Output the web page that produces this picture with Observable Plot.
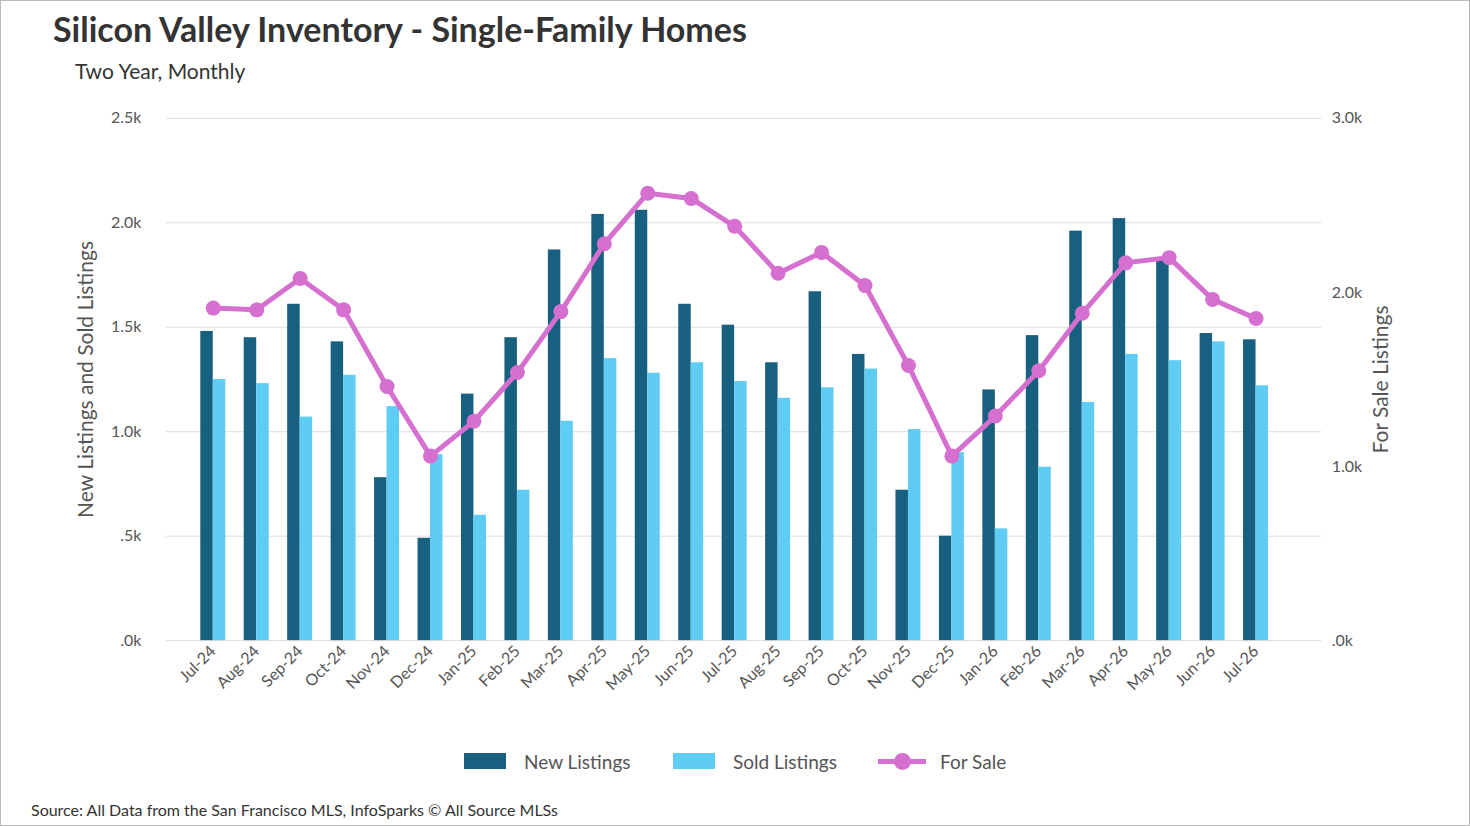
<!DOCTYPE html>
<html><head><meta charset="utf-8">
<script src="https://cdn.jsdelivr.net/npm/d3@7"></script>
<script src="https://cdn.jsdelivr.net/npm/@observablehq/plot@0.6"></script>
<style>
body{margin:0;font-family:Lato,sans-serif;}
#wrap{position:relative;width:1468px;height:824px;border:1px solid #bbb;overflow:hidden;background:#fff}
.t{position:absolute;white-space:nowrap;color:#333}
</style></head><body>
<div id="wrap">
<div class="t" style="left:52px;top:7px;font-size:34px;font-weight:bold;color:#333">Silicon Valley Inventory - Single-Family Homes</div>
<div class="t" style="left:74px;top:57px;font-size:21px;color:#333">Two Year, Monthly</div>
<div id="chart" style="position:absolute;left:0;top:0"></div>
<div class="t" style="left:463px;top:752px;width:42px;height:16px;background:#17607f"></div>
<div class="t" style="left:523px;top:749px;font-size:19px;color:#555">New Listings</div>
<div class="t" style="left:672px;top:752px;width:42px;height:16px;background:#5fccf3"></div>
<div class="t" style="left:732px;top:749px;font-size:19px;color:#555">Sold Listings</div>
<div class="t" style="left:877px;top:758px;width:48px;height:5px;background:#d56fd0"></div>
<div class="t" style="left:893px;top:752px;width:17px;height:17px;border-radius:50%;background:#d56fd0"></div>
<div class="t" style="left:939px;top:749px;font-size:19px;color:#555">For Sale</div>
<div class="t" style="left:30px;top:799px;font-size:16px;color:#333">Source: All Data from the San Francisco MLS, InfoSparks © All Source MLSs</div>
</div>
<script>
const months=["Jul-24","Aug-24","Sep-24","Oct-24","Nov-24","Dec-24","Jan-25","Feb-25","Mar-25","Apr-25","May-25","Jun-25","Jul-25","Aug-25","Sep-25","Oct-25","Nov-25","Dec-25","Jan-26","Feb-26","Mar-26","Apr-26","May-26","Jun-26","Jul-26"];
const newListings=[1.48,1.45,1.61,1.43,0.78,0.49,1.18,1.45,1.87,2.04,2.06,1.61,1.51,1.33,1.67,1.37,0.72,0.50,1.20,1.46,1.96,2.02,1.83,1.47,1.44];
const soldListings=[1.25,1.23,1.07,1.27,1.12,0.89,0.60,0.72,1.05,1.35,1.28,1.33,1.24,1.16,1.21,1.30,1.01,0.90,0.535,0.83,1.14,1.37,1.34,1.43,1.22];
const forSale=[1.91,1.90,2.08,1.90,1.46,1.06,1.26,1.54,1.89,2.28,2.57,2.54,2.38,2.11,2.23,2.04,1.58,1.06,1.29,1.55,1.88,2.17,2.20,1.96,1.85];
const leftTicks=[0,0.5,1,1.5,2,2.5];
const rightTicks=[0,1,2,3];
const fmt=d=>{let s=d.toFixed(1);if(s.startsWith("0"))s=s.slice(1);return s+"k";};
const data=months.map((m,i)=>({m,n:newListings[i],s:soldListings[i],f:forSale[i]*2.5/3}));
const W=1470,ML=165,MR=148,X0=190.3,X1=1278,band=(X1-X0)/months.length,half=band/2;
const plot=Plot.plot({
  width:W,height:826,marginLeft:ML,marginRight:MR,marginTop:117,marginBottom:186,
  style:{fontFamily:"Lato, sans-serif",fontSize:"15px",color:"#555",background:"transparent"},
  x:{type:"band",domain:months,padding:0,round:false,range:[X0,X1],label:null},
  y:{domain:[0,2.5],label:null},
  marks:[
    Plot.ruleY(leftTicks,{stroke:"#ddd",strokeWidth:1}),
    Plot.axisY({ticks:leftTicks,tickFormat:fmt,tickSize:0,tickPadding:25,label:null,fontSize:16}),
    Plot.axisY({anchor:"right",ticks:rightTicks.map(v=>v*2.5/3),tickFormat:(d)=>fmt(d*3/2.5),tickSize:0,tickPadding:10,label:null,fontSize:16}),
    Plot.axisX({tickRotate:-45,tickSize:0,tickPadding:8,label:null,fontSize:16}),
    Plot.barY(data,{x:"m",y:"n",fill:"#17607f",insetLeft:half-12.5,insetRight:half}),
    Plot.barY(data,{x:"m",y:"s",fill:"#5fccf3",insetLeft:half,insetRight:half-12.5}),
    Plot.lineY(data,{x:"m",y:"f",stroke:"#d56fd0",strokeWidth:5}),
    Plot.dot(data,{x:"m",y:"f",fill:"#d56fd0",r:7.5}),
    Plot.text(["New Listings and Sold Listings"],{frameAnchor:"left",dx:-80,rotate:-90,textAnchor:"middle",fontSize:21,fill:"#555"}),
    Plot.text(["For Sale Listings"],{frameAnchor:"right",dx:60,rotate:-90,textAnchor:"middle",fontSize:21,fill:"#555"})
  ]
});
document.getElementById("chart").appendChild(plot);
</script>
</body></html>
